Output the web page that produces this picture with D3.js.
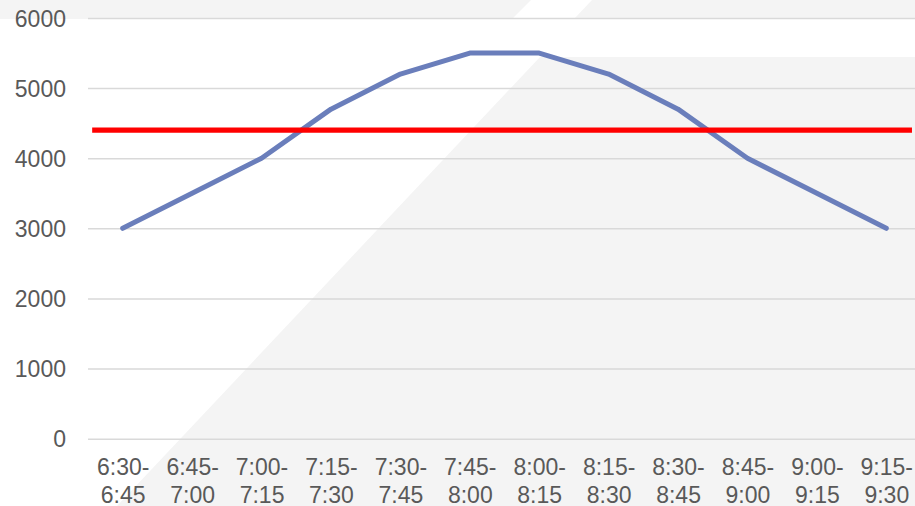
<!DOCTYPE html>
<html>
<head>
<meta charset="utf-8">
<script src="https://cdn.jsdelivr.net/npm/d3@7"></script>
<style>
  html, body { margin: 0; padding: 0; background: #ffffff; }
  svg { display: block; }
  .tick text { font-family: "Liberation Sans", Arial, sans-serif; font-size: 23px; fill: #595959; }
</style>
</head>
<body>
<svg id="chart" width="915" height="506"></svg>
<script>
// Passenger counts per quarter-hour slot, with a flat reference level
const categories = ["6:30-6:45", "6:45-7:00", "7:00-7:15", "7:15-7:30", "7:30-7:45", "7:45-8:00",
                    "8:00-8:15", "8:15-8:30", "8:30-8:45", "8:45-9:00", "9:00-9:15", "9:15-9:30"];
const flowValues = [3000, 3500, 4000, 4700, 5200, 5500, 5500, 5200, 4700, 4000, 3500, 3000];
const referenceLevel = 4400;
const yTickValues = [0, 1000, 2000, 3000, 4000, 5000, 6000];

const width = 915, height = 506;
const plot = { left: 88, right: 921, top: 18, bottom: 438.7 };

const svg = d3.select("#chart");

// Soft grey backdrop panels
const bg = svg.append("g").attr("class", "backdrop");
const grey = "#f4f4f4";
bg.append("polygon").attr("fill", grey)
  .attr("points", "0,0 531,0 512,19 0,19");
bg.append("polygon").attr("fill", grey)
  .attr("points", "592,0 915,0 915,19 574,19");
bg.append("polygon").attr("fill", grey)
  .attr("points", "540,57 915,57 915,506 117,506");

const x = d3.scalePoint().domain(categories).range([plot.left, plot.right]).padding(0.5);
const y = d3.scaleLinear().domain([0, 6000]).range([plot.bottom, plot.top]);

// Y axis with full-width gridlines
const yAxis = svg.append("g")
  .attr("transform", `translate(${plot.left},0)`)
  .call(d3.axisLeft(y).tickValues(yTickValues).tickFormat(d3.format("d"))
    .tickSize(-(plot.right - plot.left)).tickPadding(22));
yAxis.select(".domain").remove();
yAxis.selectAll(".tick line").attr("stroke", "#d9d9d9").attr("stroke-width", 1.5);
yAxis.selectAll(".tick text").attr("dy", "0.35em");

// X axis: two-line slot labels
const xAxis = svg.append("g")
  .attr("transform", `translate(0,${plot.bottom})`)
  .call(d3.axisBottom(x).tickSize(0));
xAxis.select(".domain").remove();
xAxis.selectAll(".tick text").each(function(d) {
  const t = d3.select(this);
  const parts = d.split("-");
  t.text(null).attr("y", null).attr("dy", null).attr("text-anchor", "middle");
  t.append("tspan").attr("x", 0).attr("y", 36.3).text(parts[0] + "-");
  t.append("tspan").attr("x", 0).attr("y", 64.3).text(parts[1]);
});

// Flow line
const line = d3.line().x((d, i) => x(categories[i])).y(d => y(d));
svg.append("path")
  .datum(flowValues)
  .attr("fill", "none")
  .attr("stroke", "#6a7ebb")
  .attr("stroke-width", 5)
  .attr("stroke-linejoin", "round")
  .attr("stroke-linecap", "round")
  .attr("d", line);

// Reference level, spanning nearly the full category range
const step = x.step();
const x0 = x(categories[0]) - 0.44 * step;
const x1 = x(categories[categories.length - 1]) + 0.37 * step;
svg.append("line")
  .attr("x1", x0).attr("x2", x1)
  .attr("y1", y(referenceLevel)).attr("y2", y(referenceLevel))
  .attr("stroke", "#ff0000")
  .attr("stroke-width", 5.3);
</script>
</body>
</html>
